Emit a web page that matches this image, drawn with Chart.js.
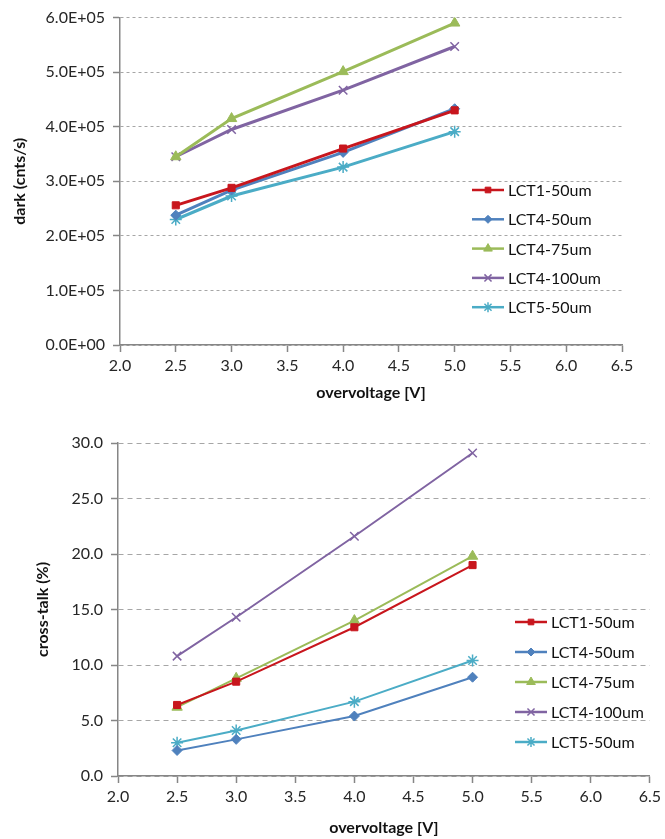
<!DOCTYPE html>
<html>
<head>
<meta charset="utf-8">
<script src="https://cdn.jsdelivr.net/npm/chart.js"></script>
<style>
  body { margin: 0; background: #fff; }
  .wrap { position: absolute; left: 0; width: 665px; }
  #topWrap { top: 0; height: 410px; }
  #botWrap { top: 420px; height: 419px; }
</style>
</head>
<body>
<div class="wrap" id="topWrap"><canvas id="darkChart"></canvas></div>
<div class="wrap" id="botWrap"><canvas id="xtalkChart"></canvas></div>
<script>
// overvoltage points measured
const overvoltage = [2.5, 3.0, 4.0, 5.0];
const seriesNames = ['LCT1-50um', 'LCT4-50um', 'LCT4-75um', 'LCT4-100um', 'LCT5-50um'];

// dark count rate (cnts/s)
const darkLCT1_50 = [256000, 288000, 360000, 430000];
const darkLCT4_50 = [238000, 284000, 353000, 433000];
const darkLCT4_75 = [345000, 415000, 501000, 590000];
const darkLCT4_100 = [345000, 395000, 467000, 547000];
const darkLCT5_50 = [230000, 273000, 326000, 391000];

// cross-talk (%)
const xtalkLCT1_50 = [6.4, 8.5, 13.4, 19.0];
const xtalkLCT4_50 = [2.3, 3.3, 5.4, 8.9];
const xtalkLCT4_75 = [6.2, 8.8, 14.0, 19.8];
const xtalkLCT4_100 = [10.8, 14.3, 21.6, 29.1];
const xtalkLCT5_50 = [3.0, 4.1, 6.7, 10.4];

// axis ticks
const xTicks = [2.0, 2.5, 3.0, 3.5, 4.0, 4.5, 5.0, 5.5, 6.0, 6.5];
const darkTicks = [0, 100000, 200000, 300000, 400000, 500000, 600000];
const xtalkTicks = [0, 5, 10, 15, 20, 25, 30];

const colors = ['#C8161D', '#4F81BD', '#9BBB59', '#8064A2', '#4BACC6'];
const styles = ['rect', 'rectRot', 'triangle', 'crossRot', 'star'];
const radii = [5, 5, 6, 6, 6];

const FONT = 'Lato, "Open Sans", sans-serif';
const AXIS = '#868686';
const TEXT = '#262626';

const sci = v => {
  if (v === 0) return '0.0E+00';
  const e = Math.floor(Math.log10(Math.abs(v)));
  const m = v / Math.pow(10, e);
  return m.toFixed(1) + 'E' + (e < 0 ? '-' : '+') + String(Math.abs(e)).padStart(2, '0');
};

const toPoints = ys => overvoltage.map((x, i) => ({ x, y: ys[i] }));

const makeSets = (lists, width) => lists.map((ys, i) => ({
  label: seriesNames[i],
  data: toPoints(ys),
  borderColor: colors[i],
  backgroundColor: colors[i],
  borderWidth: width,
  pointStyle: styles[i],
  pointRadius: radii[i],
  pointBorderWidth: (styles[i] === 'crossRot' || styles[i] === 'star') ? 1.5 : 1,
  pointHoverRadius: radii[i],
  tension: 0
}));

// legend drawn inside the plot like the original
const boxLegend = {
  id: 'boxLegend',
  afterDraw(chart, args, opts) {
    const ctx = chart.ctx;
    ctx.save();
    chart.data.datasets.forEach((ds, i) => {
      const y = opts.y + i * opts.gap;
      ctx.strokeStyle = ds.borderColor;
      ctx.lineWidth = 2.5;
      ctx.beginPath();
      ctx.moveTo(opts.x, y);
      ctx.lineTo(opts.x + opts.len, y);
      ctx.stroke();
      ctx.fillStyle = ds.backgroundColor;
      ctx.lineWidth = ds.pointBorderWidth;
      Chart.helpers.drawPoint(ctx, { pointStyle: ds.pointStyle, radius: ds.pointRadius - 1, rotation: 0, borderWidth: ds.pointBorderWidth }, opts.x + opts.len / 2, y);
      ctx.fillStyle = '#111';
      ctx.font = '16px ' + FONT;
      ctx.textBaseline = 'middle';
      ctx.textAlign = 'left';
      ctx.fillText(ds.label, opts.x + opts.len + 4, y + 1);
    });
    ctx.restore();
  }
};

function buildChart(id, cfg) {
  return new Chart(document.getElementById(id), {
    type: 'line',
    data: { datasets: cfg.datasets },
    options: {
      responsive: true,
      maintainAspectRatio: false,
      animation: false,
      layout: { padding: cfg.padding },
      plugins: {
        legend: { display: false },
        tooltip: { enabled: false },
        boxLegend: cfg.legend
      },
      scales: {
        x: {
          type: 'linear',
          min: 2, max: 6.5,
          afterBuildTicks: s => { s.ticks = xTicks.map(v => ({ value: v })); },
          afterFit: s => { s.height = cfg.xHeight; },
          grid: { drawOnChartArea: false, drawTicks: true, tickLength: 7, tickColor: AXIS, tickWidth: 1.5 },
          border: { color: AXIS, width: 1.5 },
          ticks: { color: TEXT, font: { family: FONT, size: 16 }, padding: 4, maxRotation: 0, callback: v => v.toFixed(1) },
          title: { display: true, text: 'overvoltage [V]', color: '#111', font: { family: FONT, size: 16, weight: 'bold' }, padding: { top: 0, bottom: cfg.xTitlePad } }
        },
        y: {
          min: cfg.yTicks[0], max: cfg.yTicks[cfg.yTicks.length - 1],
          afterBuildTicks: s => { s.ticks = cfg.yTicks.map(v => ({ value: v })); },
          afterFit: s => { s.width = cfg.yWidth; },
          grid: { color: '#A6A6A6', lineWidth: 1, tickLength: 7, tickColor: AXIS, tickWidth: 1.5 },
          border: { color: AXIS, width: 1.5, dash: cfg.dash },
          ticks: { color: TEXT, font: { family: FONT, size: 16 }, padding: 8, callback: cfg.yFmt },
          title: { display: true, text: cfg.yTitle, color: '#111', font: { family: FONT, size: 16, weight: 'bold' }, padding: { top: cfg.yTitlePad, bottom: 0 } }
        }
      }
    },
    plugins: [boxLegend]
  });
}

buildChart('darkChart', {
  datasets: makeSets([darkLCT1_50, darkLCT4_50, darkLCT4_75, darkLCT4_100, darkLCT5_50], 3),
  padding: { left: 0, top: 15, right: 43, bottom: 0 },
  xHeight: 65, yWidth: 120, xTitlePad: 8, yTitlePad: 10,
  yTicks: darkTicks, yFmt: v => sci(v), yTitle: 'dark (cnts/s)',
  dash: [3, 3],
  legend: { x: 472, y: 190, gap: 29.3, len: 32 }
});

buildChart('xtalkChart', {
  datasets: makeSets([xtalkLCT1_50, xtalkLCT4_50, xtalkLCT4_75, xtalkLCT4_100, xtalkLCT5_50], 2),
  padding: { left: 0, top: 23, right: 12, bottom: 0 },
  xHeight: 63, yWidth: 118, xTitlePad: 2, yTitlePad: 33,
  yTicks: xtalkTicks, yFmt: v => v.toFixed(1), yTitle: 'cross-talk (%)',
  dash: [5, 4],
  legend: { x: 515, y: 202, gap: 30, len: 32 }
});
</script>
</body>
</html>
